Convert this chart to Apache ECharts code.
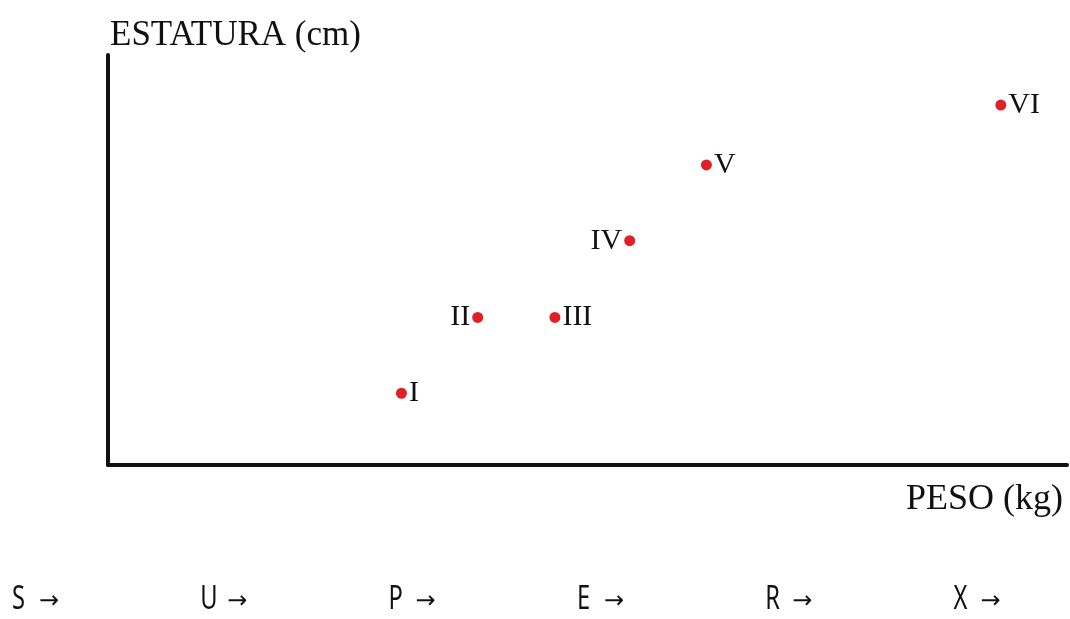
<!DOCTYPE html>
<html>
<head>
<meta charset="utf-8">
<title>Estatura x Peso</title>
<script src="https://cdn.jsdelivr.net/npm/echarts@6/dist/echarts.min.js"></script>
<style>
  html, body { margin: 0; padding: 0; background: #ffffff; }
  #chart { width: 1070px; height: 619px; }
</style>
</head>
<body>
<div id="chart"></div>
<script>
// Individuals I–VI: weight (x) and height (y) in plot units
const nomes = ['I', 'II', 'III', 'IV', 'V', 'VI'];
const pesos = [30.6, 38.55, 46.6, 54.4, 62.4, 93.1];
const estaturas = [17.5, 36.0, 36.0, 54.7, 73.2, 87.8];
const ladosRotulo = ['right', 'left', 'right', 'left', 'right', 'right'];

// Footer sequence
const rodape = ['S', 'U', 'P', 'E', 'R', 'X'];

const serif = '"Liberation Serif", "DejaVu Serif", serif';
const chart = echarts.init(document.getElementById('chart'));

const pontos = nomes.map((n, i) => ({
  name: n,
  value: [pesos[i], estaturas[i]],
  label: { position: ladosRotulo[i] }
}));

const graficos = [];
rodape.forEach((letra, i) => {
  const x0 = 12 + i * 188.3;
  graficos.push({
    type: 'text',
    x: x0, y: 600,
    scaleX: 0.74,
    style: {
      text: letra,
      font: '32px "Noto Sans", Roboto, sans-serif',
      fill: '#111111',
      align: 'left',
      verticalAlign: 'middle'
    }
  });
  graficos.push({
    type: 'text',
    x: x0 + 27, y: 602,
    style: {
      text: '→',
      font: '24px "DejaVu Sans", sans-serif',
      fill: '#111111',
      align: 'left',
      verticalAlign: 'middle'
    }
  });
});

chart.setOption({
  animation: false,
  backgroundColor: '#ffffff',
  grid: { left: 108, right: 3, top: 55, bottom: 154, containLabel: false },
  xAxis: {
    type: 'value', min: 0, max: 100,
    name: 'PESO (kg)',
    nameLocation: 'end',
    nameGap: 0,
    nameTextStyle: {
      fontFamily: serif, fontSize: 36, color: '#111111',
      align: 'right', verticalAlign: 'top', padding: [17, 4, 0, 0]
    },
    axisLine: { show: true, lineStyle: { color: '#111111', width: 4 } },
    axisTick: { show: false },
    axisLabel: { show: false },
    splitLine: { show: false }
  },
  yAxis: {
    type: 'value', min: 0, max: 100,
    name: 'ESTATURA (cm)',
    nameLocation: 'end',
    nameGap: 2,
    nameTextStyle: {
      fontFamily: serif, fontSize: 35, color: '#111111',
      align: 'left', verticalAlign: 'bottom', padding: [0, 0, 0, 2]
    },
    axisLine: { show: true, lineStyle: { color: '#111111', width: 4 } },
    axisTick: { show: false },
    axisLabel: { show: false },
    splitLine: { show: false }
  },
  series: [{
    type: 'scatter',
    data: pontos,
    symbol: 'circle',
    symbolSize: 11,
    itemStyle: { color: '#e02027', opacity: 1 },
    label: {
      show: true,
      formatter: '{b}',
      distance: 2,
      fontFamily: serif,
      fontSize: 30,
      color: '#111111'
    }
  }],
  graphic: graficos
});
</script>
</body>
</html>
